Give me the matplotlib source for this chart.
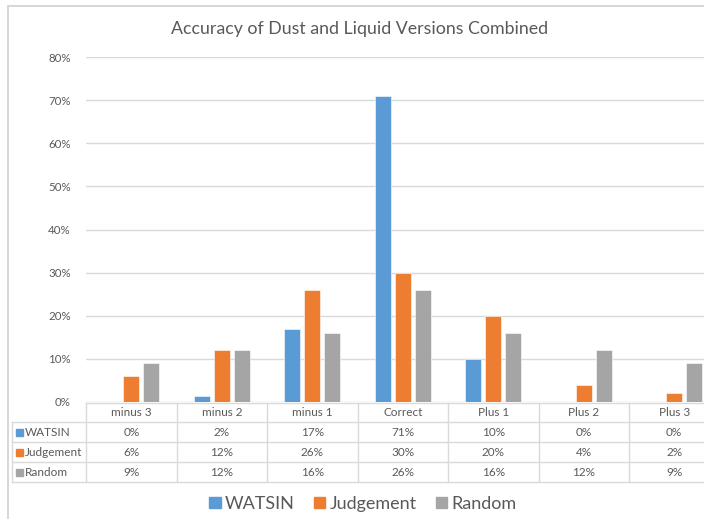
import matplotlib
matplotlib.use("Agg")
import matplotlib.pyplot as plt
from matplotlib.patches import Rectangle
from matplotlib.lines import Line2D
import numpy as np

categories = ["minus 3", "minus 2", "minus 1", "Correct", "Plus 1", "Plus 2", "Plus 3"]
series_names = ["WATSIN", "Judgement", "Random"]
watsin = [0, 1.5, 17, 71, 10, 0, 0]
judgement = [6, 12, 26, 30, 20, 4, 2]
random_ = [9, 12, 16, 26, 16, 12, 9]
y_ticks = [0, 10, 20, 30, 40, 50, 60, 70, 80]
title = "Accuracy of Dust and Liquid Versions Combined"

colors = ["#5B9BD5", "#ED7D31", "#A5A5A5"]
text_color = "#595959"
grid_color = "#D9D9D9"

plt.rcParams['font.family'] = ['Lato', 'DejaVu Sans']

W, H = 704, 519
fig = plt.figure(figsize=(W / 100, H / 100), dpi=100)

# outer chart frame
fig.patches.append(Rectangle((8 / W, -0.1), 1.2, (H - 6) / H + 0.1, transform=fig.transFigure,
                             fill=False, edgecolor="#D0D0D0", linewidth=1.2))

ax_left, ax_right = 86, 719.5
ax_bottom, ax_top = 402, 57
ax = fig.add_axes([ax_left / W, (H - ax_bottom) / H, (ax_right - ax_left) / W, (ax_bottom - ax_top) / H])
ax_h = ax_bottom - ax_top
ax_w = ax_right - ax_left

x = np.arange(len(categories))
bw = 16 / 90.5
step = 20 / 90.5
for i, (vals, c) in enumerate(zip([watsin, judgement, random_], colors)):
    ax.bar(x + (i - 1) * step, vals, width=bw, color=c, edgecolor="white", linewidth=0.4, zorder=3)

ax.set_xlim(-0.5, len(categories) - 0.5)
ax.set_ylim(0, 80)
ax.set_yticks(y_ticks)
ax.set_yticklabels([f"{v}%" for v in y_ticks])
ax.tick_params(axis='y', length=0, pad=11, labelsize=8.3, labelcolor=text_color)
ax.set_xticks([])
for s in ax.spines.values():
    s.set_visible(False)
ax.grid(axis='y', color=grid_color, linewidth=1, zorder=0)
ax.set_axisbelow(True)

fig.text(360 / W, 1 - 29 / H, title, ha='center', va='center', fontsize=12.8, color=text_color)

# data table (in axes coords, drawn outside)
def ax_x(px):
    return (px - ax_left) / ax_w

def ax_y(py):
    return (ax_bottom - py) / ax_h

rows_y = [403, 422, 442, 462, 482]
tbl_left = 12
tbl_right = ax_right
lk = dict(transform=ax.transAxes, clip_on=False, color=grid_color, linewidth=1)
# horizontal
ax.add_line(Line2D([ax_x(ax_left), ax_x(tbl_right)], [ax_y(rows_y[0])] * 2, **lk))
for ry in rows_y[1:]:
    ax.add_line(Line2D([ax_x(tbl_left), ax_x(tbl_right)], [ax_y(ry)] * 2, **lk))
# vertical
ax.add_line(Line2D([ax_x(tbl_left)] * 2, [ax_y(rows_y[1]), ax_y(rows_y[-1])], **lk))
for k in range(len(categories) + 1):
    px = ax_left + k * 90.5
    ax.add_line(Line2D([ax_x(px)] * 2, [ax_y(rows_y[0]), ax_y(rows_y[-1])], **lk))

fs_tbl = 8.5
for k, cat in enumerate(categories):
    ax.text(k, ax_y((rows_y[0] + rows_y[1]) / 2), cat, transform=ax.get_xaxis_transform(),
            ha='center', va='center', fontsize=fs_tbl, color=text_color, clip_on=False)

for r, (name, vals, c) in enumerate(zip(series_names, [watsin, judgement, random_], colors)):
    yc = ax_y((rows_y[r + 1] + rows_y[r + 2]) / 2)
    ax.add_patch(Rectangle((ax_x(16), yc - 3.5 / ax_h), 7 / ax_w, 7 / ax_h, transform=ax.transAxes,
                           color=c, clip_on=False))
    ax.text(ax_x(25), yc, name, transform=ax.transAxes, ha='left', va='center',
            fontsize=fs_tbl, color=text_color, clip_on=False)
    for k, v in enumerate(vals):
        ax.text(k, yc, f"{round(v)}%", transform=ax.get_xaxis_transform(),
                ha='center', va='center', fontsize=fs_tbl, color=text_color, clip_on=False)

handles = [Rectangle((0, 0), 1, 1, color=c) for c in colors]
fig.legend(handles, series_names, loc='center', bbox_to_anchor=(363 / W, 1 - 504 / H), ncol=3,
           frameon=False, fontsize=13, labelcolor=text_color, handlelength=0.62, handleheight=0.62,
           handletextpad=0.25, columnspacing=1.05)

fig.savefig("out.png", dpi=100)
